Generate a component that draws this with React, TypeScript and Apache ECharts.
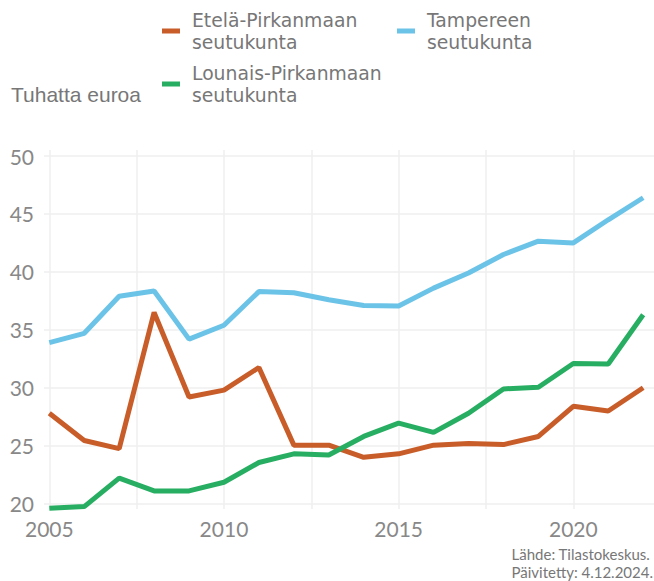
import React, { useEffect, useRef } from "react";
import * as echarts from "echarts";

const years = [2005, 2006, 2007, 2008, 2009, 2010, 2011, 2012, 2013, 2014, 2015, 2016, 2017, 2018, 2019, 2020, 2021, 2022];
const seriesNames = ["Etelä-Pirkanmaan seutukunta", "Tampereen seutukunta", "Lounais-Pirkanmaan seutukunta"];
const etela = [27.8, 25.45, 24.75, 36.5, 29.2, 29.8, 31.75, 25.05, 25.05, 24.0, 24.3, 25.05, 25.2, 25.1, 25.8, 28.4, 28.0, 30.0];
const tampere = [33.9, 34.7, 37.9, 38.35, 34.2, 35.4, 38.3, 38.2, 37.6, 37.1, 37.05, 38.6, 39.9, 41.5, 42.65, 42.5, 44.5, 46.4];
const lounais = [19.6, 19.75, 22.2, 21.1, 21.1, 21.85, 23.55, 24.3, 24.2, 25.8, 26.95, 26.15, 27.8, 29.9, 30.05, 32.1, 32.05, 36.3];
const colors = ["#C85D29", "#6CC3E8", "#27AE62"];
const yTicks = [20, 25, 30, 35, 40, 45, 50];
const xLabels = [2005, 2010, 2015, 2020];
const xGrid = [2005, 2007.5, 2010, 2012.5, 2015, 2017.5, 2020];
const yTitle = "Tuhatta euroa";
const sourceText = "Lähde: Tilastokeskus.\nPäivitetty: 4.12.2024.";

export default function App() {
  const ref = useRef<HTMLDivElement>(null);
  useEffect(() => {
    if (!ref.current) return;
    const chart = echarts.init(ref.current, null, { renderer: "svg" });
    const font = "Lato";
    const legendBase = {
      orient: "horizontal",
      icon: "rect",
      itemWidth: 18,
      itemHeight: 5,
      itemGap: 0,
      padding: 0,
      selectedMode: false,
      textStyle: { fontSize: 18.8, lineHeight: 22, color: "#777", fontFamily: "DejaVu Sans", padding: [0, 0, 0, 7] },
      formatter: (n: string) => n.replace(" ", "\n"),
    };
    const vals = [etela, tampere, lounais];
    chart.setOption({
      animation: false,
      backgroundColor: "#fff",
      title: [
        {
          text: yTitle,
          left: 11,
          top: 84,
          padding: 0,
          textStyle: { fontSize: 21, fontWeight: "normal", color: "#777", fontFamily: "Liberation Sans" },
        },
      ],
      graphic: [
        {
          type: "text",
          right: 1,
          top: 545,
          style: {
            text: sourceText,
            align: "right",
            fontSize: 15,
            lineHeight: 18,
            fill: "#777",
            fontFamily: font,
          },
        },
      ],
      legend: [
        { ...legendBase, data: [seriesNames[0]], left: 162, top: 9 },
        { ...legendBase, data: [seriesNames[1]], left: 397, top: 9 },
        { ...legendBase, data: [seriesNames[2]], left: 162, top: 62 },
      ],
      grid: { left: 44, right: 0, top: 150, bottom: 72, containLabel: false },
      xAxis: {
        type: "value",
        min: 2004.848,
        max: 2022.31,
        axisLine: { show: false },
        axisTick: { show: false, customValues: xGrid },
        axisLabel: {
          customValues: xLabels,
          color: "#888",
          fontSize: 21,
          fontFamily: font,
          margin: 9,
          formatter: (v: number) => String(v),
        },
        splitLine: { show: true, lineStyle: { color: "#efefef", width: 1.5 } },
      },
      yAxis: {
        type: "value",
        min: 19.54,
        max: 50.52,
        axisLine: { show: false },
        axisTick: { show: false, customValues: yTicks },
        axisLabel: {
          customValues: yTicks,
          color: "#888",
          fontSize: 21,
          fontFamily: font,
          margin: 10,
          formatter: (v: number) => String(v),
        },
        splitLine: { show: true, lineStyle: { color: "#efefef", width: 1.5 } },
      },
      series: seriesNames.map((name, i) => ({
        name,
        type: "line",
        symbol: "none",
        color: colors[i],
        lineStyle: { width: 5, color: colors[i] },
        data: years.map((y, j) => [y, vals[i][j]]),
      })),
    });
    return () => chart.dispose();
  }, []);
  return <div ref={ref} style={{ width: 654, height: 581, position: "absolute", left: 0, top: 0 }} />;
}
